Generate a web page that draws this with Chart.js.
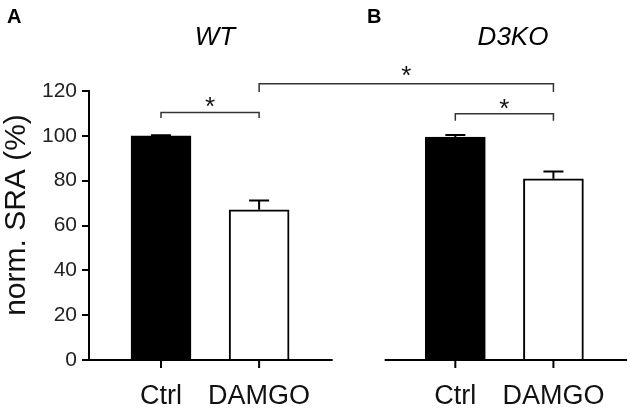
<!DOCTYPE html>
<html>
<head>
<meta charset="utf-8">
<script src="https://cdn.jsdelivr.net/npm/chart.js@4/dist/chart.umd.min.js"></script>
<style>
  html, body { margin: 0; padding: 0; background: #fff; }
  #wrap { position: relative; width: 630px; height: 409px; }
</style>
</head>
<body>
<div id="wrap"><canvas id="sraChart" width="630" height="409"></canvas></div>
<script>
// --- datos ---
const xLabels = ['Ctrl', 'DAMGO', 'Ctrl', 'DAMGO'];
const xPositions = [1, 2, 4, 5];
const sraValues = [100, 67, 99.4, 80.8];
const sraErrors = [0.3, 4.2, 1.0, 3.3];
const barColors = ['#000000', '#ffffff', '#000000', '#ffffff'];
const yTicks = [0, 20, 40, 60, 80, 100, 120];
const yTitle = 'norm. SRA (%)';
const panelTitles = ['WT', 'D3KO'];
const panelLetters = ['A', 'B'];
// brackets: [from, to, level, drop]
const brackets = [
    [1, 2, 110.4, 108.0],
    [2, 5, 123.2, 119.6],
    [4, 5, 109.8, 106.7]
];
const starLevels = [116.1, 129.9, 115.2];

const FONT = '"Liberation Sans", Arial, Helvetica, sans-serif';

// error bars
const errorBarPlugin = {
    id: 'errorBars',
    afterDatasetsDraw(chart) {
        const ctx = chart.ctx;
        const x = chart.scales.x, y = chart.scales.y;
        ctx.save();
        ctx.strokeStyle = '#000';
        ctx.lineWidth = 2;
        sraValues.forEach((v, i) => {
            const px = x.getPixelForValue(xPositions[i]);
            const top = y.getPixelForValue(v + sraErrors[i]);
            const base = y.getPixelForValue(v);
            ctx.beginPath();
            ctx.moveTo(px, base);
            ctx.lineTo(px, top);
            ctx.moveTo(px - 10, top);
            ctx.lineTo(px + 10, top);
            ctx.stroke();
        });
        ctx.restore();
    }
};

// ejes partidos, corchetes, titulos
const decorPlugin = {
    id: 'decor',
    afterDraw(chart) {
        const ctx = chart.ctx;
        const x = chart.scales.x, y = chart.scales.y;
        const area = chart.chartArea;
        const y0 = y.getPixelForValue(0);
        ctx.save();

        // x axis, two segments + tick marks
        ctx.strokeStyle = '#000';
        ctx.lineWidth = 2;
        ctx.beginPath();
        ctx.moveTo(area.left - 7, y0);
        ctx.lineTo(x.getPixelForValue(2.75), y0);
        ctx.moveTo(x.getPixelForValue(3.28), y0);
        ctx.lineTo(area.right, y0);
        xPositions.forEach(p => {
            const px = x.getPixelForValue(p);
            ctx.moveTo(px, y0);
            ctx.lineTo(px, y0 + 8);
        });
        ctx.stroke();

        // significance brackets
        ctx.strokeStyle = '#333';
        ctx.lineWidth = 1.5;
        ctx.fillStyle = '#111';
        ctx.font = '26px ' + FONT;
        ctx.textAlign = 'center';
        ctx.textBaseline = 'alphabetic';
        brackets.forEach((b, i) => {
            const x1 = x.getPixelForValue(b[0]);
            const x2 = x.getPixelForValue(b[1]);
            const yl = y.getPixelForValue(b[2]);
            const yd = y.getPixelForValue(b[3]);
            ctx.beginPath();
            ctx.moveTo(x1, yd);
            ctx.lineTo(x1, yl);
            ctx.lineTo(x2, yl);
            ctx.lineTo(x2, yd);
            ctx.stroke();
            const sy = y.getPixelForValue(starLevels[i]);
            ctx.fillText('*', (x1 + x2) / 2, sy + 0.575 * 26);
        });

        // y axis title
        ctx.save();
        ctx.translate(17, 215);
        ctx.rotate(-Math.PI / 2);
        ctx.font = '30px ' + FONT;
        ctx.textBaseline = 'middle';
        ctx.fillText(yTitle, 0, 0);
        ctx.restore();

        // panel titles
        ctx.fillStyle = '#000';
        ctx.font = 'italic 26px ' + FONT;
        ctx.fillText(panelTitles[0], 215, 45);
        ctx.fillText(panelTitles[1], 513, 45);

        ctx.font = 'bold 20px ' + FONT;
        ctx.textAlign = 'left';
        ctx.fillText(panelLetters[0], 7, 23);
        ctx.fillText(panelLetters[1], 367, 23);
        ctx.restore();
    }
};

new Chart(document.getElementById('sraChart'), {
    type: 'bar',
    data: {
        datasets: [{
            data: xPositions.map((p, i) => ({ x: p, y: sraValues[i] })),
            backgroundColor: barColors,
            borderColor: '#000',
            borderWidth: 2,
            barThickness: 60
        }]
    },
    options: {
        responsive: false,
        animation: false,
        layout: { padding: { top: 91, right: 3, left: 0, bottom: 0 } },
        plugins: {
            legend: { display: false },
            tooltip: { enabled: false }
        },
        scales: {
            x: {
                type: 'linear',
                offset: false,
                min: 0.266,
                max: 5.75,
                afterBuildTicks: s => { s.ticks = xPositions.map(v => ({ value: v })); },
                afterFit: s => { s.height = 49; },
                border: { display: false },
                grid: { offset: false, display: false },
                ticks: {
                    autoSkip: false,
                    maxRotation: 0,
                    padding: 12,
                    color: '#111',
                    font: { family: FONT, size: 27 },
                    callback: (v, i) => xLabels[i]
                }
            },
            y: {
                min: 0,
                max: 120,
                afterBuildTicks: s => { s.ticks = yTicks.map(v => ({ value: v })); },
                afterFit: s => { s.width = 89; },
                border: { display: true, color: '#000', width: 2 },
                grid: { drawOnChartArea: false, drawTicks: true, tickLength: 7, tickColor: '#000', lineWidth: 2 },
                ticks: {
                    padding: 5,
                    color: '#222',
                    font: { family: FONT, size: 21 }
                }
            }
        }
    },
    plugins: [errorBarPlugin, decorPlugin]
});
</script>
</body>
</html>
